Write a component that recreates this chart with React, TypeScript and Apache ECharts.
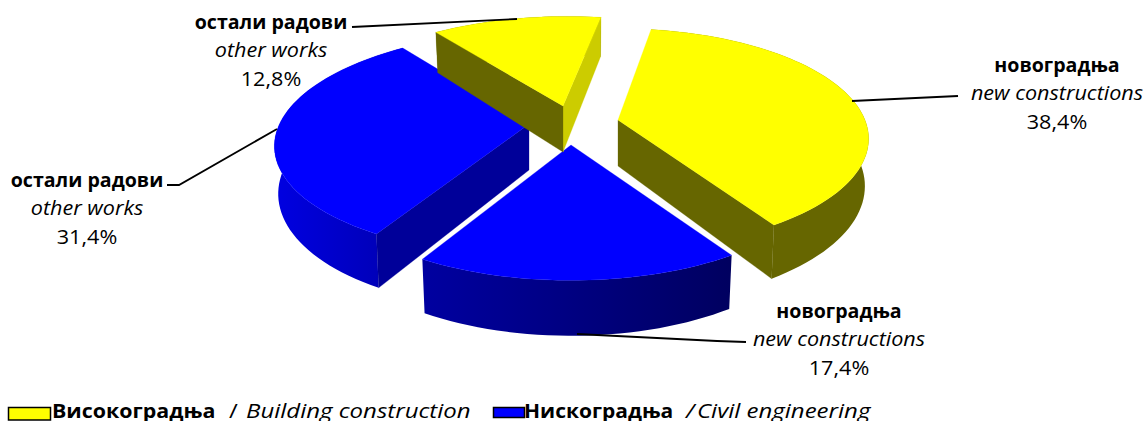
import React, { useEffect, useRef } from "react";
import * as echarts from "echarts";

// Data, clockwise from the first slice
const categoriesSr = ["новоградња", "новоградња", "остали радови", "остали радови"];
const categoriesEn = ["new constructions", "new constructions", "other works", "other works"];
const shares = [38.4, 17.4, 31.4, 12.8];
const shareLabels = ["38,4%", "17,4%", "31,4%", "12,8%"];
const legendSr = ["Високоградња", "Нискоградња"];
const legendEnText = ["Building construction", "Civil engineering"];

const FONT = "'Open Sans', 'Noto Sans', sans-serif";
const FIRST_ANGLE = 9;
const A = 247;
const B = 107;
const K = 0.17;
const D = 46;

// Screen position and projection scale of each exploded slice
const apexes = [
  [618, 120],
  [571, 145],
  [529, 124],
  [563, 106],
];
const scalesY = [1, 1.05, 1.01, 0.98];
const scalesX = [1, 1.03, 1.01, 1];
const shears = [0, 0, -7.8, -5];
const looks = [
  { top: "#FFFF00", outer: ["#666600", "#666600"], start: null, end: "#666600" },
  { top: "#0000FF", outer: ["#0000A0", "#000060"], start: null, end: null },
  { top: "#0000FF", outer: ["#0000E0", "#0000B0"], start: "#000099", end: null },
  { top: "#FFFF00", outer: ["#666600", "#666600"], start: "#666600", end: "#CCCC00" },
];
const labelPositions = [
  { cx: 1057, y: 64 },
  { cx: 839, y: 310 },
  { cx: 87, y: 179 },
  { cx: 271, y: 21 },
];
const leaders = [
  [[852, 101], [958, 96]],
  [[577, 334], [717, 341], [746, 342]],
  [[167, 185], [179, 185], [277, 129]],
  [[352, 27], [517, 19]],
];

function corner(i: number, deg: number, low: boolean) {
  const [ax, ay] = apexes[i];
  const t = (deg * Math.PI) / 180;
  const x = Math.sin(t);
  const z = -Math.cos(t);
  const w = 1 / (1 - K * z);
  const sx = A * scalesX[i];
  const sy = B * scalesY[i];
  const s = shears[i] * z;
  return low
    ? [ax + s + 0.985 * sx * x * w, ay + sy * z * w + D * w]
    : [ax + s + sx * x * w, ay + sy * z * w];
}

function arc(i: number, a0: number, a1: number, low: boolean) {
  const pts: number[][] = [];
  const n = Math.max(2, Math.ceil((a1 - a0) / 2));
  for (let k = 0; k <= n; k++) pts.push(corner(i, a0 + ((a1 - a0) * k) / n, low));
  return pts;
}

function renderSlice(params: any, api: any) {
  const i = params.dataIndex;
  const before = shares.slice(0, i).reduce((s, v) => s + v, 0);
  const a0 = FIRST_ANGLE + (before / 100) * 360;
  const a1 = a0 + (api.value(0) / 100) * 360;
  const [ax, ay] = apexes[i];
  const look = looks[i];
  const topArc = arc(i, a0, a1, false);
  const lowArc = arc(i, a0, a1, true);
  const xs = lowArc.map((p) => p[0]);
  const poly = (points: number[][], fill: any) => ({
    type: "polygon",
    shape: { points },
    style: { fill, stroke: typeof fill === "string" ? fill : undefined, lineWidth: 0.3 },
  });
  const outerFill = new echarts.graphic.LinearGradient(
    Math.min(...xs), 0, Math.max(...xs), 0,
    [
      { offset: 0, color: look.outer[0] },
      { offset: 1, color: look.outer[1] },
    ],
    true
  );
  const apexLow = [ax, ay + D];
  const children: any[] = [poly([...topArc, ...lowArc.slice().reverse()], outerFill)];
  if (look.end) children.push(poly([[ax, ay], topArc[topArc.length - 1], lowArc[lowArc.length - 1], apexLow], look.end));
  if (look.start) children.push(poly([[ax, ay], topArc[0], lowArc[0], apexLow], look.start));
  children.push(poly([[ax, ay], ...topArc], look.top));
  return { type: "group", children };
}

export default function App() {
  const ref = useRef<HTMLDivElement>(null);
  useEffect(() => {
    const chart = echarts.init(ref.current!, undefined, { renderer: "svg" });
    const graphics: any[] = [];
    leaders.forEach((pts) =>
      graphics.push({
        type: "polyline",
        z: 10,
        shape: { points: pts },
        style: { stroke: "#000", lineWidth: 1.8, fill: "none" },
      })
    );
    const steps = [0, 28, 57];
    shares.forEach((_, i) => {
      const p = labelPositions[i];
      const texts = [categoriesSr[i], categoriesEn[i], shareLabels[i]];
      texts.forEach((text, j) =>
        graphics.push({
          type: "text",
          z: 10,
          x: p.cx,
          y: p.y + steps[j],
          scaleX: j === 0 ? 0.98 : 1.08,
          style: {
            text,
            fill: "#000",
            align: "center",
            verticalAlign: "middle",
            font: `${j === 1 ? "italic " : ""}${j === 0 ? "bold " : ""}20px ${FONT}`,
          },
        })
      );
    });
    const swatch = (x: number, w: number, h: number, fill: string) => ({
      type: "rect",
      z: 10,
      shape: { x, y: 407.5, width: w, height: h },
      style: { fill, stroke: "#000", lineWidth: 1.5 },
    });
    graphics.push(swatch(8.5, 42, 12.5, "#FFFF00"), swatch(493.5, 31, 10, "#0000FF"));
    const legendText = (x: number, text: string, font: string, scaleX: number) => ({
      type: "text",
      z: 10,
      x,
      y: 410,
      scaleX,
      style: { text, fill: "#000", align: "left", verticalAlign: "middle", font },
    });
    const bold = `bold 20px ${FONT}`;
    const ital = `italic 20px ${FONT}`;
    graphics.push(
      legendText(52, legendSr[0], bold, 1.07),
      legendText(229, "/", `20px ${FONT}`, 1.2),
      legendText(246, legendEnText[0], ital, 1.2),
      legendText(524, legendSr[1], bold, 1.05),
      legendText(686, "/", ital, 1.2),
      legendText(697, legendEnText[1], ital, 1.2)
    );
    chart.setOption({
      animation: false,
      series: [
        {
          type: "custom",
          coordinateSystem: "none",
          silent: true,
          clip: false,
          renderItem: renderSlice,
          data: shares.map((v) => [v]),
        },
      ],
      graphic: graphics,
    });
    return () => chart.dispose();
  }, []);
  return (
    <div
      ref={ref}
      style={{ position: "fixed", left: 0, top: 0, width: 1146, height: 421, overflow: "hidden", background: "#fff" }}
    />
  );
}
